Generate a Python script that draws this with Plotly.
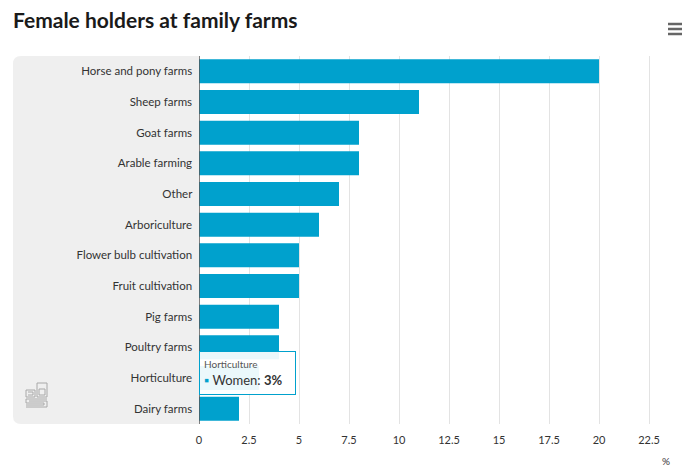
import plotly.graph_objects as go

categories = ["Horse and pony farms", "Sheep farms", "Goat farms", "Arable farming", "Other",
              "Arboriculture", "Flower bulb cultivation", "Fruit cultivation", "Pig farms",
              "Poultry farms", "Horticulture", "Dairy farms"]
women = [20, 11, 8, 8, 7, 6, 5, 5, 4, 4, 3, 2]
tick_vals = [0, 2.5, 5, 7.5, 10, 12.5, 15, 17.5, 20, 22.5]
tick_text = ["0", "2.5", "5", "7.5", "10", "12.5", "15", "17.5", "20", "22.5"]

W, H = 684, 468
L, R, T, B = 199, 29, 56, 44
pw, ph = W - L - R, H - T - B

def px(p):
    return (p - L) / pw

def py(p):
    return (H - B - p) / ph

FONT = "Lato, Noto Sans, sans-serif"
BLUE = "#00a1cd"

fig = go.Figure(go.Bar(
    y=categories, x=women, orientation="h",
    marker=dict(color=BLUE, line=dict(width=0)),
    width=0.78, name="Women",
))

# grey label panel with rounded left corners
x0, x1, y0, y1, r = px(13), px(199), py(56), py(424), 8
rx, ry = r / pw, r / ph
panel = (f"M {x1} {y0} L {x0+rx} {y0} Q {x0} {y0} {x0} {y0-ry} "
         f"L {x0} {y1+ry} Q {x0} {y1} {x0+rx} {y1} L {x1} {y1} Z")
shapes = [dict(type="path", path=panel, xref="paper", yref="paper",
               fillcolor="#efefef", line=dict(width=0), layer="below")]
# hamburger menu icon
for yy in (24, 29, 34):
    shapes.append(dict(type="line", xref="paper", yref="paper",
                       x0=px(668), x1=px(682), y0=py(yy), y1=py(yy),
                       line=dict(color="#666666", width=2.5)))

# faint logo outline in the label panel
def pth(points):
    s = "M " + " L ".join(f"{px(a)} {py(b)}" for a, b in points)
    return s

logo_paths = [
    [(26, 390), (35, 390), (35, 397), (26, 397), (26, 390)],
    [(37, 383), (47, 383), (47, 397), (37, 397), (37, 383)],
    [(39, 389), (45, 389), (45, 395), (39, 395), (39, 389)],
    [(28, 392), (33, 392), (33, 395), (28, 395)],
    [(47, 399), (26, 399), (26, 403), (44, 403), (44, 405), (26, 405)],
    [(26, 407), (47, 407), (47, 401), (29, 401)],
]
for pts in logo_paths:
    shapes.append(dict(type="path", path=pth(pts), xref="paper", yref="paper",
                       line=dict(color="#a8a8a8", width=1), layer="above"))

fig.update_layout(
    width=W, height=H,
    margin=dict(l=L, r=R, t=T, b=B),
    paper_bgcolor="white", plot_bgcolor="rgba(0,0,0,0)",
    showlegend=False,
    title=dict(text="<b>Female holders at family farms</b>", x=13 / W, xanchor="left",
               y=1 - 21 / H, yanchor="middle",
               font=dict(family=FONT, size=21, color="#1a1a1a")),
    font=dict(family=FONT, size=11, color="#333333"),
    xaxis=dict(range=[0, 22.8], tickvals=tick_vals, ticktext=tick_text,
               showgrid=True, gridcolor="#e3e3e3", gridwidth=1, zeroline=False,
               showline=False, ticks="", ticklabelstandoff=8,
               tickfont=dict(size=11, color="#333333"),
               fixedrange=True),
    yaxis=dict(categoryorder="array", categoryarray=categories[::-1],
               autorange=True, showgrid=False, showline=False, ticks="",
               ticksuffix="  ", tickfont=dict(size=11.5, color="#333333"),
               fixedrange=True),
    shapes=shapes,
    bargap=0.22,
)

fig.add_shape(type="line", xref="x", yref="paper", x0=0, x1=0, y0=0, y1=1,
              line=dict(color="#555555", width=1.5))

fig.add_annotation(text="%", xref="paper", yref="paper", x=px(666), y=py(461),
                   xanchor="center", yanchor="middle", showarrow=False,
                   font=dict(size=10, color="#333333"))

fig.add_annotation(
    text="<span style='font-size:10px;color:#555555'>Horticulture</span><br>"
         f"<span style='color:{BLUE}'>▪</span> Women: <b>3%</b>",
    xref="paper", yref="paper", x=px(199), y=py(351), xanchor="left", yanchor="top",
    align="left", valign="middle", width=87, height=34,
    showarrow=False, bgcolor="rgba(255,255,255,0.92)",
    bordercolor=BLUE, borderwidth=1, borderpad=4,
    font=dict(size=13, color="#333333"),
)

fig.write_html("out.html")
